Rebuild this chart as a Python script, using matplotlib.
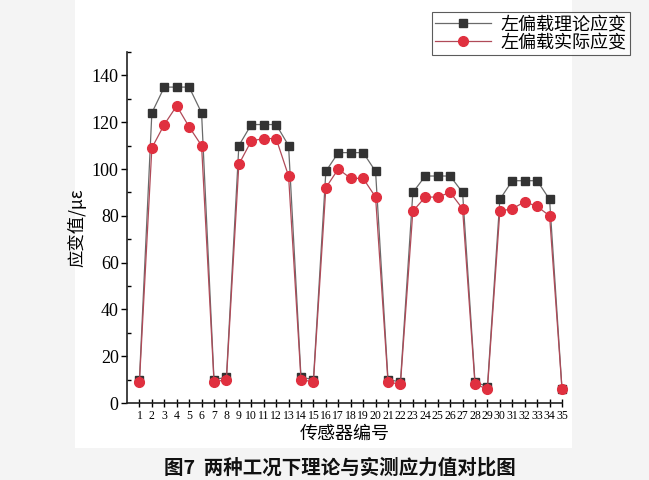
import matplotlib
matplotlib.use("Agg")
import matplotlib.pyplot as plt
from matplotlib.ticker import MultipleLocator
from matplotlib.patches import Rectangle

sensors = list(range(1, 36))
theory = [10, 124, 135, 135, 135, 124, 10, 11, 110, 119, 119, 119, 110, 11, 10,
          99, 107, 107, 107, 99, 10, 9, 90, 97, 97, 97, 90, 9, 7,
          87, 95, 95, 95, 87, 6]
actual = [9, 109, 119, 127, 118, 110, 9, 10, 102, 112, 113, 113, 97, 10, 9,
          92, 100, 96, 96, 88, 9, 8, 82, 88, 88, 90, 83, 8, 6,
          82, 83, 86, 84, 80, 6]
legend_labels = ["左偏载理论应变", "左偏载实际应变"]
xlabel = "传感器编号"
ylabel = "应变值/με"
caption = "图7  两种工况下理论与实测应力值对比图"

cjk = ["Noto Sans CJK SC", "DejaVu Sans"]
serif = ["Liberation Serif", "DejaVu Serif"]

fig = plt.figure(figsize=(6.49, 4.80), dpi=100, facecolor="#f4f4f4")
fig.patches.append(Rectangle((75 / 649, 1 - 448 / 480), (572 - 75) / 649, 448 / 480,
                             transform=fig.transFigure, facecolor="white",
                             edgecolor="none", zorder=-5))
ax = fig.add_axes([127 / 649, 1 - 403 / 480, (562 - 127) / 649, (403 - 52) / 480])
ax.set_facecolor("white")

ax.plot(sensors, theory, color="#6a6a6a", lw=0.9, marker="s", ms=6,
        mfc="#333333", mec="#333333", label=legend_labels[0], zorder=3,
        clip_on=False)
ax.plot(sensors, actual, color="#b04a58", lw=0.9, marker="o", ms=7,
        mfc="#e0303f", mec="#e0303f", label=legend_labels[1], zorder=4,
        clip_on=False)

ax.set_xlim(0, 35)
ax.set_ylim(0, 150)
ax.set_xticks(sensors)
ax.set_xticklabels([str(s) for s in sensors], fontfamily=serif, fontsize=8.5)
ax.set_yticks(range(0, 141, 20))
ax.yaxis.set_minor_locator(MultipleLocator(10))
for lab in ax.get_yticklabels():
    lab.set_fontfamily(serif)
    lab.set_fontsize(13)
ax.tick_params(axis="y", which="major", direction="out", length=4, width=1, pad=2)
ax.tick_params(axis="y", which="minor", direction="in", length=3, width=1)
ax.tick_params(axis="x", which="major", direction="inout", length=6, width=1, pad=2)

for s in ["top", "right"]:
    ax.spines[s].set_visible(False)
for s in ["left", "bottom"]:
    ax.spines[s].set_linewidth(1.2)
    ax.spines[s].set_color("#222222")

ax.set_xlabel(xlabel, fontfamily=cjk, fontsize=13, labelpad=2)
ax.set_ylabel(ylabel, fontfamily=cjk, fontsize=12.5, labelpad=4)

leg = ax.legend(loc="upper right", bbox_to_anchor=(630 / 649, 1 - 12 / 480),
                bbox_transform=fig.transFigure, prop={"family": cjk, "size": 13},
                frameon=True, fancybox=False, edgecolor="#333333",
                labelspacing=0.0, handlelength=3.1, handletextpad=0.5,
                borderpad=0.2, borderaxespad=0)
leg.get_frame().set_linewidth(0.8)

fig.text(340 / 649, 1 - 458 / 480, caption, fontfamily=cjk, fontsize=14,
         fontweight="bold", ha="center", va="top", color="#111111")

fig.savefig("out.png", dpi=100, facecolor=fig.get_facecolor())
